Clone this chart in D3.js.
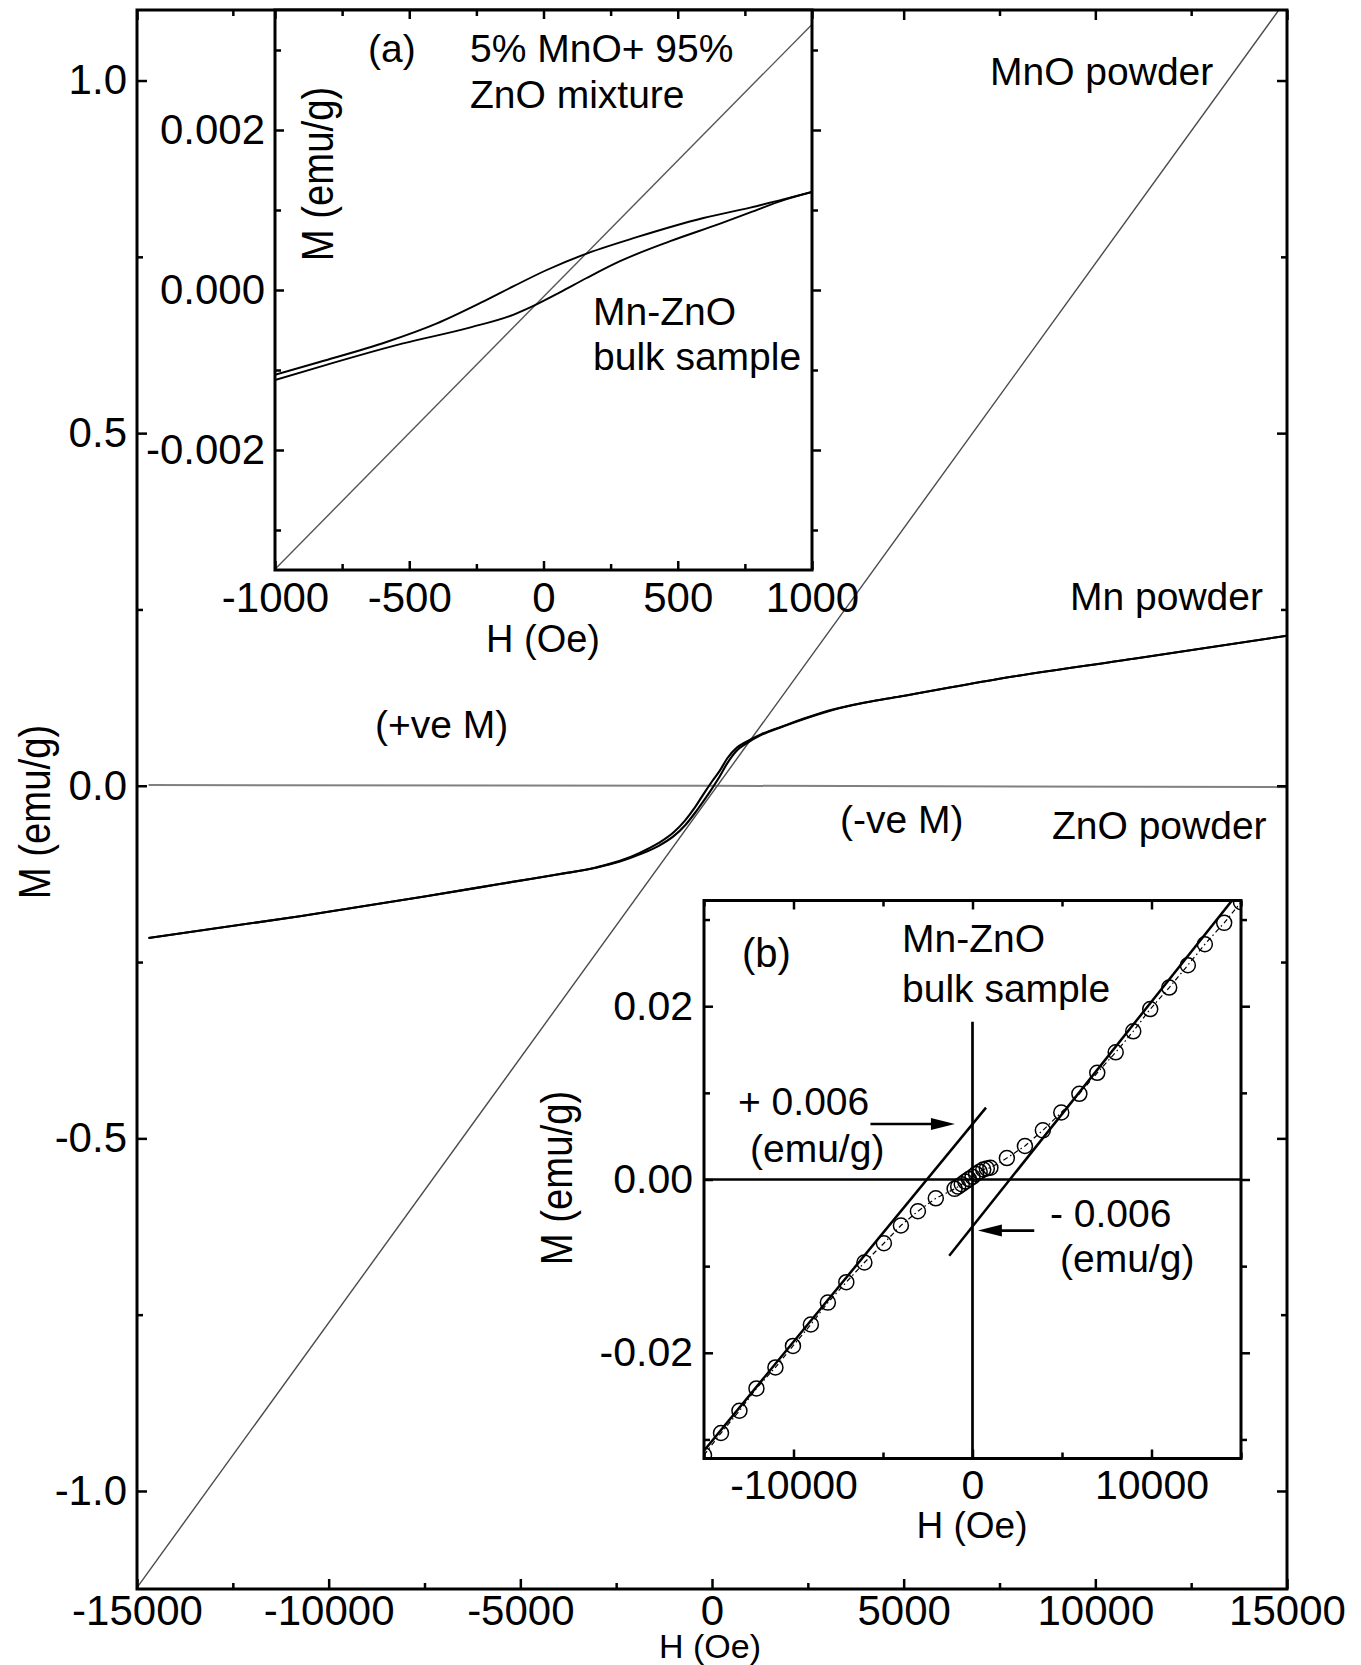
<!DOCTYPE html>
<html>
<head>
<meta charset="utf-8">
<script src="https://cdnjs.cloudflare.com/ajax/libs/d3/7.8.5/d3.min.js"></script>
<style>
    body {
        margin: 0;
        background: white;
    }

    svg {
        display: block;
        font-family: "Liberation Sans", Arial, Helvetica, sans-serif;
    }
</style>
</head>

<body>
<svg id="chart" width="1361" height="1665"></svg>

<script>
    // ---- main panel data (H in Oe, M in emu/g) ----
    let mnoH = [-15000, 15000];
    let mnoM = [-1.137, 1.116];

    let znoH = [-14700, 0, 15000];
    let znoM = [0.001, 0.0, -0.002];

    let mnH = [-14700, -10750, -7500, -5500, -4000, -3000, -2400, -1900, -1400, -1000, -700, -450, -200, 0, 200, 400, 650, 900, 1300, 1850, 2500, 3150, 4000, 4900, 7500, 11000, 15000];
    let mnUpper = [-0.216, -0.185, -0.157, -0.139, -0.1255, -0.1155, -0.1065, -0.0955, -0.0815, -0.066, -0.049, -0.031, -0.010, 0.006, 0.021, 0.039, 0.054, 0.0625, 0.0735, 0.0845, 0.097, 0.108, 0.118, 0.1265, 0.1517, 0.180, 0.2127];
    let mnLower = [-0.216, -0.185, -0.157, -0.139, -0.1255, -0.116, -0.1075, -0.0975, -0.0855, -0.0715, -0.056, -0.039, -0.020, -0.004, 0.013, 0.032, 0.050, 0.060, 0.0725, 0.0840, 0.0965, 0.1075, 0.118, 0.1265, 0.1517, 0.180, 0.2127];

    let mainXTicks = [-15000, -10000, -5000, 0, 5000, 10000, 15000];
    let mainXMinor = [-12500, -7500, -2500, 2500, 7500, 12500];
    let mainYTicks = [-1.0, -0.5, 0.0, 0.5, 1.0];
    let mainYMinor = [-0.75, -0.25, 0.25, 0.75];

    // ---- inset (a) data ----
    let mixH = [-1000, 1000];
    let mixM = [-0.00349, 0.00332];

    let loopDecH = [-1000, -834, -585, -399, -225, -113, 12, 148, 347, 596, 770, 900, 1000];
    let loopDecM = [-0.00106, -0.0009, -0.00065, -0.00042, -0.000145, 0.000045, 0.00025, 0.00044, 0.00066, 0.0009, 0.00103, 0.00114, 0.001225];
    let loopIncH = [-1000, -834, -523, -275, -113, -26, 61, 161, 285, 472, 658, 770, 900, 1000];
    let loopIncM = [-0.001125, -0.00096, -0.000667, -0.00047, -0.00031, -0.00018, -0.00003, 0.00015, 0.00036, 0.00061, 0.00083, 0.00097, 0.00113, 0.001225];

    let aXTicks = [-1000, -500, 0, 500, 1000];
    let aXMinor = [-750, -250, 250, 750];
    let aYTicks = [-0.002, 0.0, 0.002];
    let aYMinor = [-0.003, -0.001, 0.001, 0.003];

    // ---- inset (b) data ----
    let bH = [-15000, -14050, -13020, -12070, -11010, -10030, -9030, -8080, -7050, -6040, -4950, -4000, -3050, -2050,
        -1000, -800, -600, -400, -200, 0, 200, 400, 600, 800, 1000,
        1920, 2930, 3930, 4960, 5970, 6970, 8000, 8980, 9930, 10990, 12030, 12980, 14060, 15000];
    let bM = [-0.0318, -0.02926, -0.02669, -0.02411, -0.02169, -0.01921, -0.01673, -0.01421, -0.01185, -0.00958, -0.00736, -0.00531, -0.00366, -0.00217,
        -0.00108, -0.00082, -0.00055, -0.00024, 0.00005, 0.00031, 0.00064, 0.0009, 0.00115, 0.00127, 0.00136,
        0.00247, 0.00387, 0.00567, 0.00773, 0.00989, 0.01231, 0.01468, 0.0171, 0.01967, 0.02215, 0.02473, 0.02715, 0.02962, 0.0320];

    let fitLeftH = [-15000, 755];
    let fitLeftM = [-0.0313, 0.0083];
    let fitRightH = [-1300, 15000];
    let fitRightM = [-0.0088, 0.0335];

    let bXTicks = [-10000, 0, 10000];
    let bXMinor = [-15000, -5000, 5000, 15000];
    let bYTicks = [-0.02, 0.0, 0.02];
    let bYMinor = [-0.03, -0.01, 0.01, 0.03];

    // ---- setup ----
    let svg = d3.select("#chart");
    let loc = d3.formatLocale({ decimal: ".", thousands: "", grouping: [3], currency: ["", ""], minus: "-" });
    let zipPts = (xs, ys) => xs.map((v, i) => [v, ys[i]]);

    let mainBox = { left: 137, right: 1287, top: 10, bottom: 1589 };
    let aBox = { left: 275, right: 812, top: 10, bottom: 570 };
    let bBox = { left: 704, right: 1241, top: 900.5, bottom: 1458.5 };

    let xMain = d3.scaleLinear().domain([-15000, 15000]).range([mainBox.left, mainBox.right]);
    let yMain = d3.scaleLinear().domain([-1.139, 1.1]).range([mainBox.bottom, mainBox.top]);
    let xA = d3.scaleLinear().domain([-1000, 1000]).range([aBox.left, aBox.right]);
    let yA = d3.scaleLinear().domain([-0.0035, 0.0035]).range([aBox.bottom, aBox.top]);
    let xB = d3.scaleLinear().domain([-15000, 15000]).range([bBox.left, bBox.right]);
    let yB = d3.scaleLinear().domain([-0.0322, 0.0322]).range([bBox.bottom, bBox.top]);

    function addClip(id, box) {
        svg.append("clipPath").attr("id", id)
            .append("rect")
            .attr("x", box.left).attr("y", box.top)
            .attr("width", box.right - box.left).attr("height", box.bottom - box.top);
    }

    function whiteBox(box) {
        svg.append("rect")
            .attr("x", box.left).attr("y", box.top)
            .attr("width", box.right - box.left).attr("height", box.bottom - box.top)
            .attr("fill", "white");
    }

    function drawLine(g, xs, ys, x, y, stroke, width, curve) {
        let line = d3.line()
            .x(d => x(d[0]))
            .y(d => y(d[1]))
            .curve(curve || d3.curveLinear);
        return g.append("path")
            .attr("d", line(zipPts(xs, ys)))
            .attr("fill", "none")
            .attr("stroke", stroke)
            .attr("stroke-width", width);
    }

    // axes on all four sides, ticks pointing into the box
    function drawAxes(box, x, y, opt) {
        let g = svg.append("g");
        let sides = [
            { make: () => d3.axisBottom(x), tr: `translate(0,${box.bottom})`, major: opt.xMajor, minor: opt.xMinor, fmt: opt.xFmt, pad: opt.xPad, dir: -1 },
            { make: () => d3.axisTop(x), tr: `translate(0,${box.top})`, major: opt.xMajor, minor: opt.xMinor, fmt: () => "", pad: 0, dir: -1 },
            { make: () => d3.axisLeft(y), tr: `translate(${box.left},0)`, major: opt.yMajor, minor: opt.yMinor, fmt: opt.yFmt, pad: opt.yPad, dir: -1 },
            { make: () => d3.axisRight(y), tr: `translate(${box.right},0)`, major: opt.yMajor, minor: opt.yMinor, fmt: () => "", pad: 0, dir: opt.rightDir }
        ];
        sides.forEach(s => {
            g.append("g").attr("transform", s.tr)
                .call(s.make().tickValues(s.minor).tickSize(s.dir * opt.minor).tickSizeOuter(0).tickFormat(() => ""));
            g.append("g").attr("transform", s.tr)
                .call(s.make().tickValues(s.major).tickSize(s.dir * opt.major).tickSizeOuter(0)
                    .tickPadding(s.pad).tickFormat(s.fmt));
        });
        g.selectAll(".domain").remove();
        g.selectAll(".tick line").attr("stroke", "black").attr("stroke-width", opt.tickWidth);
        g.selectAll(".tick text")
            .attr("fill", "black")
            .style("font-size", opt.fontSize + "px")
            .style("font-family", "'Liberation Sans', Arial, sans-serif");

        svg.append("rect")
            .attr("x", box.left).attr("y", box.top)
            .attr("width", box.right - box.left).attr("height", box.bottom - box.top)
            .attr("fill", "none")
            .attr("stroke", "black")
            .attr("stroke-width", opt.frameWidth);
    }

    function label(text, x, y, size, anchor) {
        svg.append("text")
            .attr("x", x).attr("y", y)
            .attr("text-anchor", anchor || "start")
            .style("font-size", size + "px")
            .attr("fill", "black")
            .text(text);
    }

    function vLabel(text, x, y, size) {
        svg.append("text")
            .attr("transform", `translate(${x},${y}) rotate(-90) scale(0.87,1)`)
            .attr("text-anchor", "middle")
            .style("font-size", size + "px")
            .attr("fill", "black")
            .text(text);
    }

    // ---- main panel ----
    addClip("clipMain", mainBox);
    let mainG = svg.append("g").attr("clip-path", "url(#clipMain)");
    drawLine(mainG, znoH, znoM, xMain, yMain, "#808080", 2);
    drawLine(mainG, mnoH, mnoM, xMain, yMain, "#4a4a4a", 1.4);
    drawLine(mainG, mnH, mnUpper, xMain, yMain, "black", 2.1, d3.curveMonotoneX);
    drawLine(mainG, mnH, mnLower, xMain, yMain, "black", 2.1, d3.curveMonotoneX);

    drawAxes(mainBox, xMain, yMain, {
        xMajor: mainXTicks, xMinor: mainXMinor, yMajor: mainYTicks, yMinor: mainYMinor,
        xFmt: loc.format("d"), yFmt: loc.format(".1f"),
        xPad: 6, yPad: 10, major: 10, minor: 6, rightDir: -1,
        fontSize: 42, tickWidth: 2.5, frameWidth: 3
    });

    label("H (Oe)", 710, 1658, 34, "middle");
    vLabel("M (emu/g)", 50, 812, 44);
    label("MnO powder", 990, 85, 39);
    label("Mn powder", 1070, 610, 39);
    label("ZnO powder", 1052, 839, 39);
    label("(+ve M)", 375, 738, 39);
    label("(-ve M)", 840, 833, 39);

    // ---- inset (a) ----
    whiteBox(aBox);
    addClip("clipA", aBox);
    let aG = svg.append("g").attr("clip-path", "url(#clipA)");
    drawLine(aG, mixH, mixM, xA, yA, "#555", 1.4);
    drawLine(aG, loopDecH, loopDecM, xA, yA, "black", 1.9, d3.curveMonotoneX);
    drawLine(aG, loopIncH, loopIncM, xA, yA, "black", 1.9, d3.curveMonotoneX);

    drawAxes(aBox, xA, yA, {
        xMajor: aXTicks, xMinor: aXMinor, yMajor: aYTicks, yMinor: aYMinor,
        xFmt: loc.format("d"), yFmt: loc.format(".3f"),
        xPad: 12, yPad: 10, major: 9, minor: 6, rightDir: 1,
        fontSize: 42, tickWidth: 2.5, frameWidth: 3
    });

    label("H (Oe)", 543, 652, 38, "middle");
    vLabel("M (emu/g)", 333, 174, 44);
    label("(a)", 368, 62, 39);
    label("5% MnO+ 95%", 470, 62, 39);
    label("ZnO mixture", 470, 108, 39);
    label("Mn-ZnO", 593, 325, 39);
    label("bulk sample", 593, 370, 39);

    // ---- inset (b) ----
    whiteBox(bBox);
    addClip("clipB", bBox);
    let bG = svg.append("g").attr("clip-path", "url(#clipB)");

    // zero lines
    drawLine(bG, [-15000, 15000], [0, 0], xB, yB, "black", 2.7);
    drawLine(bG, [0, 0], [-0.0322, 0.0182], xB, yB, "black", 2.7);

    // linear fits
    drawLine(bG, fitLeftH, fitLeftM, xB, yB, "black", 2.5);
    drawLine(bG, fitRightH, fitRightM, xB, yB, "black", 2.5);

    // data points joined by a dash-dot line
    drawLine(bG, bH, bM, xB, yB, "black", 1.2).attr("stroke-dasharray", "5,3,1.5,3");
    bG.selectAll("circle")
        .data(zipPts(bH, bM))
        .enter()
        .append("circle")
        .attr("cx", d => xB(d[0]))
        .attr("cy", d => yB(d[1]))
        .attr("r", 7.5)
        .attr("fill", "none")
        .attr("stroke", "black")
        .attr("stroke-width", 1.5);

    drawAxes(bBox, xB, yB, {
        xMajor: bXTicks, xMinor: bXMinor, yMajor: bYTicks, yMinor: bYMinor,
        xFmt: loc.format("d"), yFmt: loc.format(".2f"),
        xPad: 11, yPad: 11, major: 9, minor: 6, rightDir: 1,
        fontSize: 41, tickWidth: 2.5, frameWidth: 3
    });

    label("H (Oe)", 972, 1538, 37, "middle");
    vLabel("M (emu/g)", 572, 1178, 44);
    label("(b)", 742, 967, 40);
    label("Mn-ZnO", 902, 952, 39);
    label("bulk sample", 902, 1002, 39);
    label("+ 0.006", 738, 1115, 39);
    label("(emu/g)", 750, 1162, 39);
    label("- 0.006", 1050, 1227, 39);
    label("(emu/g)", 1060, 1272, 39);

    // arrows pointing at the intercepts
    let arrows = [
        { from: [-5700, 0.0064], to: [-980, 0.0064] },
        { from: [3450, -0.0059], to: [300, -0.0059] }
    ];
    arrows.forEach(a => {
        let x1 = xB(a.from[0]), y1 = yB(a.from[1]);
        let x2 = xB(a.to[0]), y2 = yB(a.to[1]);
        let dir = Math.sign(x2 - x1);
        svg.append("line")
            .attr("x1", x1).attr("y1", y1)
            .attr("x2", x2 - dir * 18).attr("y2", y2)
            .attr("stroke", "black").attr("stroke-width", 2.6);
        svg.append("path")
            .attr("d", `M${x2},${y2} L${x2 - dir * 24},${y2 - 6} L${x2 - dir * 24},${y2 + 6} Z`)
            .attr("fill", "black");
    });
</script>
</body>
</html>
